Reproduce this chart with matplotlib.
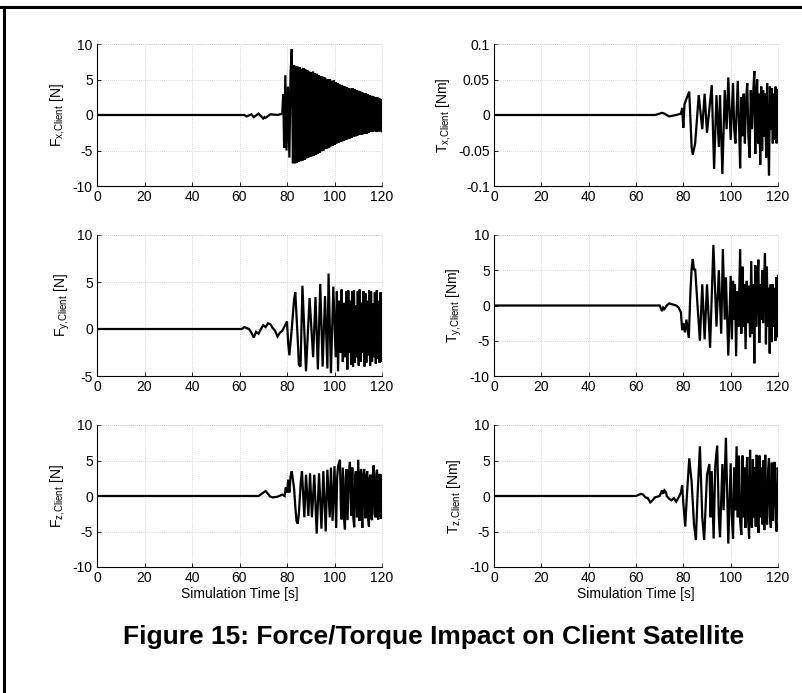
import numpy as np
import matplotlib
matplotlib.use("Agg")
import matplotlib.pyplot as plt
from matplotlib.lines import Line2D

plt.rcParams['font.family'] = ['Liberation Sans', 'DejaVu Sans']
plt.rcParams['mathtext.default'] = 'regular'
plt.rcParams['axes.unicode_minus'] = False

# ---------------- data ----------------
x_ticks = [0, 20, 40, 60, 80, 100, 120]

# Fx: quiet part then dense decaying oscillation (alternating highs / lows)
fx_quiet_t = [0, 30, 60, 62, 63, 65, 66, 68, 70, 70.5, 71, 73, 76, 78, 78.4, 78.8, 79.3, 79.8, 80.4, 81.0, 81.5, 82.0, 82.5]
fx_quiet_v = [0, 0, 0, 0, -0.2, 0.1, -0.3, 0.2, -0.5, -0.3, -0.4, 0.1, 0.0, 0.2, 2.9, -4.6, 5.6, -5.0, 4.0, -6.0, 6.0, 9.3, -6.8]
fx_hi = [7.0, 6.9, 6.8, 6.7, 6.5, 6.6, 6.4, 6.3, 6.1, 6.0, 6.1, 5.9, 5.8, 5.6, 5.5, 5.4, 5.3, 5.1,
         5.0, 5.0, 4.8, 4.9, 4.6, 4.5, 4.3, 4.2, 4.1, 4.0, 3.9, 3.8, 3.7, 3.8, 3.6, 3.5, 3.4, 3.3,
         3.2, 3.0, 3.1, 2.9, 2.8, 2.7, 2.6, 2.5, 2.5, 2.4, 2.2]
fx_lo = [-6.8, -6.7, -6.6, -6.5, -6.4, -6.3, -6.1, -6.0, -5.9, -5.8, -5.7, -5.6, -5.5, -5.3, -5.1,
         -5.0, -4.8, -4.7, -4.6, -4.4, -4.3, -4.2, -4.0, -3.9, -3.8, -3.7, -3.6, -3.5, -3.4, -3.3,
         -3.2, -3.1, -3.0, -2.9, -2.8, -2.8, -2.7, -2.6, -2.6, -2.5, -2.4, -2.4, -2.3, -2.4, -2.3,
         -2.3, -2.3]

# Tx
tx_t = [0, 30, 60, 68, 71, 72, 74, 77, 79, 79.5, 80, 80.5, 81, 82.5, 83.5, 84, 85, 86.5, 88, 89, 90, 92,
        93, 94, 95, 95.5, 96.5, 97.5, 98.3, 99, 100, 101, 101.5, 102, 103, 103.5, 104, 104.5, 105, 105.5,
        106, 106.5, 107, 107.5, 108, 108.5, 109, 109.5, 110, 110.4, 110.8, 111.2, 111.6, 112, 112.5,
        112.9, 113.3, 113.7, 114.1, 114.5, 115, 115.4, 115.8, 116.2, 116.6, 117, 117.4, 117.8, 118.2,
        118.6, 119, 119.4, 119.7]
tx_v = [0, 0, 0, 0, 0.003, 0.002, -0.002, 0, 0.002, 0.01, -0.018, 0.015, 0.02, 0.033, -0.045, -0.056,
        -0.04, 0.028, -0.02, 0.03, -0.025, 0.042, -0.076, 0.028, -0.045, 0.028, -0.083, 0.035, -0.02,
        0.053, -0.035, 0.045, -0.02, -0.04, 0.048, -0.01, -0.075, 0.025, -0.03, 0.03, -0.04, 0.02,
        0.045, -0.03, -0.06, 0.035, -0.02, 0.03, 0.062, -0.055, 0.02, 0.05, -0.04, 0.03, -0.07, 0.04,
        -0.05, 0.035, -0.03, 0.03, -0.06, 0.045, -0.03, -0.085, 0.04, -0.02, 0.038, -0.04, 0.03,
        -0.035, 0.04, -0.04, 0.035]

# Fy
fy_t = [0, 30, 61, 62, 64, 65, 66, 67, 68, 69, 70, 71, 72, 73, 74, 75, 76, 77, 78, 79, 80, 80.5, 81, 82,
        83, 83.5, 84.5, 85, 85.7, 86.5, 88, 89.5, 91, 92, 93, 94, 95, 96, 97, 97.5, 98.5, 99.5, 100.5,
        101, 101.5, 102, 102.5, 103, 103.5, 104, 104.5, 105, 105.4, 105.8, 106.2, 106.6, 107, 107.4,
        107.8, 108.2, 108.6, 109, 109.4, 109.8, 110.2, 110.6, 111, 111.4, 111.8, 112.2, 112.6, 113,
        113.4, 113.8, 114.2, 114.6, 115, 115.4, 115.8, 116.2, 116.6, 117, 117.4, 117.8, 118.2, 118.6,
        119, 119.4, 119.8, 120]
fy_v = [0, 0, 0, 0.2, 0, -0.4, -0.9, -0.3, -0.5, 0, 0.4, 0.2, 0.6, 0.5, 0.1, -0.2, -0.8, -0.4, -0.2, 0.3,
        0.8, -1.5, -2.8, 0, 3.2, 3.9, -1, -3.8, -4.0, 4.6, -4.5, 3.3, -3.0, 3.4, -4.3, 4.8, -4.0, 3.5,
        -4.2, 5.9, -4.7, 4.5, -3.0, 4.0, -4.5, 3.0, -2.5, 4.2, -3.5, 2.8, -3.0, 4.0, -4.3, 4.1, -2.5,
        3.0, -3.8, 4.0, -4.0, 4.1, -3.6, 2.5, -3.0, 4.0, -3.9, 4.2, -3.5, 2.8, -2.5, 4.0, -4.0, 3.8,
        -3.6, 3.0, -2.8, 4.1, -3.9, 4.0, -3.5, 2.7, -3.0, 3.9, -3.7, 4.1, -3.2, 3.0, -3.6, 3.9, -3.5,
        3.0]

# Ty
ty_t = [0, 30, 60, 70, 71, 71.5, 72, 73, 74, 75, 77, 78, 79, 79.5, 80, 80.7, 81.3, 82.3, 83, 83.5, 84,
        84.5, 85, 86, 87, 88, 89, 90, 91.3, 92.7, 94, 95, 96, 96.7, 97.5, 98, 99, 100, 100.5, 101,
        101.4, 101.8, 102.3, 102.8, 103.3, 104, 104.5, 105, 105.4, 105.8, 106.3, 106.8, 107.2, 107.7,
        108.2, 108.7, 109.2, 109.6, 110, 110.4, 110.8, 111.2, 111.7, 112.1, 112.5, 112.9, 113.3, 113.7,
        114.1, 114.5, 114.9, 115.3, 115.7, 116.1, 116.5, 116.9, 117.3, 117.7, 118.1, 118.5, 118.9,
        119.3, 119.7, 120]
ty_v = [0, 0, 0, 0, -0.8, -0.3, -0.5, 0, 0.3, 0.2, 0, -0.3, -1.0, -3.5, -2.5, -3.8, -2.0, -4.6, 2.0, 5.2,
        6.6, 5.0, 5.2, 0, -5.0, 3.0, -4.8, 3.0, -6.0, 8.6, -3.0, 5.0, -4.0, 8.0, -2.0, 4.0, -7.1, 4.2,
        -4.8, 3.5, -2.0, 3.0, -7.2, 2.0, -3.0, 8.0, -4.0, 5.5, -3.0, 3.0, -6.2, 3.5, -2.5, 2.8, -4.5,
        6.3, -4.0, 3.0, -8.2, 5.7, -3.0, 2.5, 6.5, -5.3, 3.0, -2.0, 5.0, -2.5, 3.0, 7.4, -5.5, 5.5,
        -3.0, 2.5, -6.8, 3.0, -5.2, 3.0, -3.0, 2.5, -5.0, 4.0, -4.5, 4.2]

# Fz
fz_t = [0, 30, 60, 68, 71, 72, 73, 74, 76, 78, 79, 79.5, 80, 80.5, 81, 81.5, 82, 83, 83.5, 84, 84.5, 85,
        85.8, 86.3, 87.3, 88, 89, 89.7, 90.5, 91.5, 92.5, 93.5, 94.5, 95.3, 96.3, 97, 98, 98.5, 99.2,
        100, 100.7, 101.1, 101.5, 102.3, 102.7, 103, 103.5, 104, 104.4, 104.7, 105, 105.5, 106, 106.5,
        107, 107.5, 107.9, 108.3, 108.7, 109, 109.5, 110, 110.5, 110.8, 111.2, 111.7, 112.1, 112.5,
        112.9, 113.2, 113.5, 113.8, 114.2, 114.5, 114.8, 115.1, 115.4, 115.8, 116.1, 116.5, 116.9,
        117.3, 117.6, 117.9, 118.2, 118.5, 118.8, 119.1, 119.4, 119.8, 120]
fz_v = [0, 0, 0, 0, 0.7, 0.3, -0.1, -0.2, -0.1, 0.2, 0, 1.2, 0.5, 2.3, 0.5, 2.8, 3.5, 1.0, -1.5, -3.5,
        -3.9, -2.5, 2.0, 3.5, -3.0, 3.0, -2.8, 3.2, -3.0, 3.0, -5.3, 3.2, -4.6, 3.5, -5.0, 3.7, -3.0,
        4.0, -3.5, 4.2, -4.5, 2.5, 4.2, 5.1, -2.0, -3.3, 4.0, -3.0, -4.7, 2.5, 3.8, -3.4, 3.0, 4.8,
        -2.8, 4.0, -3.0, -4.4, 2.8, 3.5, -3.0, 5.1, -3.5, 3.0, 3.8, -4.5, 2.8, 3.8, -3.0, -3.0, 3.0,
        3.5, -3.2, -4.3, 2.5, 3.0, -3.0, -3.4, 3.0, 4.3, -2.5, -3.0, 3.0, 3.7, -3.0, -3.3, 2.8, 3.1,
        -2.8, -3.2, 2.9]

# Tz
tz_t = [0, 30, 60, 62, 63, 64, 65, 66, 67, 68, 69, 70, 71, 71.5, 72, 72.7, 73, 74, 75, 76, 77, 78, 79,
        79.5, 80, 80.8, 81.5, 82.5, 83.5, 84.5, 85.3, 86, 87, 88, 88.8, 90, 91, 91.5, 92, 92.8, 93.5,
        94.3, 95, 95.5, 96.5, 97, 98, 99, 100, 100.5, 101, 101.5, 102, 102.5, 103, 103.5, 104, 104.5,
        105, 105.4, 105.8, 106.2, 106.6, 107, 107.4, 107.8, 108.2, 108.6, 109, 109.4, 109.8, 110.2,
        110.6, 111, 111.4, 111.8, 112.2, 112.6, 113, 113.4, 113.8, 114.2, 114.6, 115, 115.4, 115.8,
        116.2, 116.6, 117, 117.4, 117.8, 118.2, 118.6, 119, 119.4, 119.8, 120]
tz_v = [0, 0, 0, 0.3, 0.2, -0.2, -0.3, -0.9, -0.6, -0.2, -0.1, 0, 0.8, 0.3, 0.8, 0.5, 0, -0.4, -0.6,
        -0.3, -0.8, -0.2, 0.5, 1.5, -1.0, -4.3, 0, 5.3, 2.0, -4.0, -6.2, 0, 7.0, -3.0, -6.2, 3.0, 4.5,
        -3.0, 3.5, -6.0, 4.3, 7.1, -3.0, -5.8, 4.5, -2.0, 8.2, -6.7, 4.6, -3.0, -6.0, 4.0, -2.0, 7.0,
        -3.0, 5.7, -3.5, -5.5, 5.7, -3.0, 4.0, -4.5, 3.0, 5.5, -3.5, -6.0, 6.5, -3.0, -4.5, 5.2, -3.0,
        4.0, -4.3, 5.8, -3.5, -5.2, 5.7, -3.0, 4.0, -4.0, 5.0, -4.8, 5.8, -3.0, -4.0, 3.5, 5.3, -3.0,
        -4.5, 4.7, -3.5, 3.0, 4.8, -3.2, -5.0, 4.0, 3.7]

# ---------------- build Fx series ----------------
fx_osc = [v for pair in zip(fx_hi, fx_lo) for v in pair]
fx_osc_t = np.linspace(83.0, 120.0, len(fx_osc))
fx_t = np.concatenate([fx_quiet_t, fx_osc_t])
fx_v = np.concatenate([fx_quiet_v, fx_osc])

W, H = 802, 693
fig = plt.figure(figsize=(W / 100, H / 100), dpi=100)

def rect(x0, x1, y0, y1):
    return [x0 / W, 1 - y1 / H, (x1 - x0) / W, (y1 - y0) / H]

cols = [(97, 382), (494, 778)]
rows = [(44, 186), (235, 376), (425, 567)]

panels = [
    (0, 0, fx_t, fx_v, (-10, 10), [-10, -5, 0, 5, 10], None, r'F$_{x{,}Client}$ [N]'),
    (0, 1, tx_t, tx_v, (-0.1, 0.1), [-0.1, -0.05, 0, 0.05, 0.1], ['-0.1', '-0.05', '0', '0.05', '0.1'], r'T$_{x{,}Client}$ [Nm]'),
    (1, 0, fy_t, fy_v, (-5, 10), [-5, 0, 5, 10], None, r'F$_{y{,}Client}$ [N]'),
    (1, 1, ty_t, ty_v, (-10, 10), [-10, -5, 0, 5, 10], None, r'T$_{y{,}Client}$ [Nm]'),
    (2, 0, fz_t, fz_v, (-10, 10), [-10, -5, 0, 5, 10], None, r'F$_{z{,}Client}$ [N]'),
    (2, 1, tz_t, tz_v, (-10, 10), [-10, -5, 0, 5, 10], None, r'T$_{z{,}Client}$ [Nm]'),
]

for r, c, t, v, ylim, yt, ytl, ylab in panels:
    ax = fig.add_axes(rect(cols[c][0], cols[c][1], rows[r][0], rows[r][1]))
    ax.plot(t, v, color='black', lw=1.6, solid_joinstyle='miter')
    ax.set_xlim(0, 120)
    ax.set_ylim(*ylim)
    ax.set_xticks(x_ticks)
    ax.set_yticks(yt)
    if ytl is not None:
        ax.set_yticklabels(ytl)
    ax.grid(True, color='#c8c8c8', linestyle=(0, (1, 1.5)), lw=0.6)
    ax.spines['top'].set_visible(False)
    ax.spines['right'].set_visible(False)
    ax.spines['left'].set_linewidth(0.8)
    ax.spines['bottom'].set_linewidth(0.8)
    ax.axhline(ylim[1], color='#c8c8c8', linestyle=(0, (1, 1.5)), lw=0.6, clip_on=False)
    ax.axvline(120, color='#c8c8c8', linestyle=(0, (1, 1.5)), lw=0.6, clip_on=False)
    ax.tick_params(direction='in', length=3, width=0.6, labelsize=10, pad=3)
    ax.set_ylabel(ylab, fontsize=10, labelpad=4)
    if r == 2:
        ax.set_xlabel('Simulation Time [s]', fontsize=10, labelpad=1)

fig.text(434 / W, 1 - 637 / H, 'Figure 15: Force/Torque Impact on Client Satellite',
         ha='center', va='center', fontsize=19, fontweight='bold')

# page frame (top and left rules)
fig.add_artist(Line2D([0, 1], [1 - 7 / H, 1 - 7 / H], transform=fig.transFigure, color='black', lw=2.2))
fig.add_artist(Line2D([4 / W, 4 / W], [0, 1 - 7 / H], transform=fig.transFigure, color='black', lw=2.2))

fig.savefig('out.png', dpi=100)
